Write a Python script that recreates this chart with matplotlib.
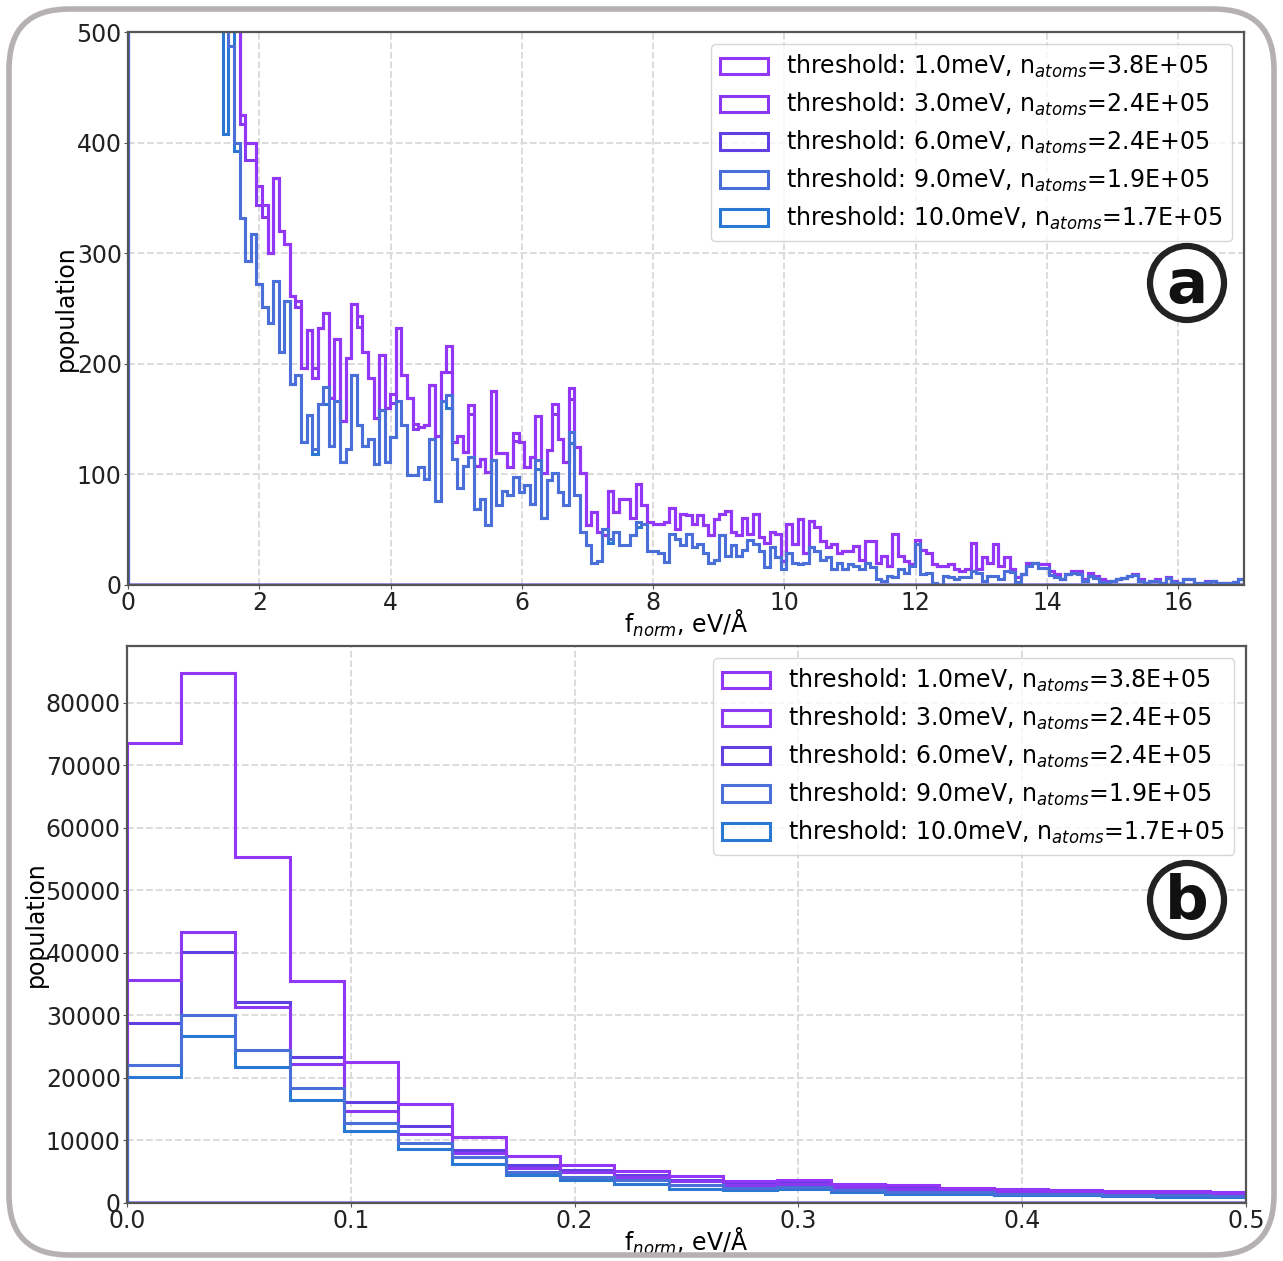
import numpy as np
import matplotlib
matplotlib.use("Agg")
import matplotlib.pyplot as plt
from matplotlib.patches import Circle, FancyBboxPatch

thresholds = [1.0, 3.0, 6.0, 9.0, 10.0]
n_atoms = [3.8e5, 2.4e5, 2.4e5, 1.9e5, 1.7e5]
colors = ['#9436f7', '#8a38f2', '#6040e2', '#4a6fd8', '#2a78d2']
draw_order = [2.3, 2.2, 2.1, 2.5, 2.4]

# (a) force norm histogram, 200 bins between 0 and 17 eV/A
edges_a = np.linspace(0, 17, 201)

purple_counts = [
    230000, 66000, 25000, 14000, 9000, 6500, 4800, 3600, 2700, 2100,
    1650, 1300, 1050, 880, 750, 650, 600, 620, 580, 530,
    425, 400, 400, 361, 344, 300, 368, 320, 308, 261,
    257, 196, 231, 187, 232, 246, 169, 222, 148, 205,
    254, 243, 211, 187, 151, 208, 160, 173, 232, 190,
    169, 146, 143, 145, 181, 135, 193, 216, 129, 135,
    120, 163, 108, 114, 102, 175, 119, 119, 107, 137,
    129, 107, 116, 153, 101, 122, 164, 132, 111, 178,
    125, 101, 54, 66, 48, 45, 85, 66, 78, 78,
    61, 91, 72, 57, 55, 55, 57, 70, 51, 64,
    63, 55, 63, 54, 45, 60, 64, 67, 48, 45,
    61, 46, 64, 43, 38, 48, 46, 22, 55, 37,
    60, 29, 58, 52, 40, 34, 37, 29, 31, 31,
    35, 23, 40, 40, 20, 26, 17, 46, 26, 22,
    19, 41, 32, 29, 19, 17, 17, 19, 14, 13,
    14, 38, 14, 25, 20, 37, 17, 25, 14, 7,
    10, 20, 20, 19, 19, 13, 10, 5, 10, 13,
    13, 5, 11, 8, 5, 4, 4, 5, 6, 8,
    10, 5, 2, 4, 5, 2, 7, 4, 2, 5,
    5, 2, 2, 4, 4, 2, 2, 2, 3, 5,
]

blue_counts = [
    95000, 36000, 15000, 8500, 5500, 3800, 2800, 2100, 1600, 1250,
    1000, 850, 730, 650, 590, 550, 520, 560, 487, 400,
    332, 293, 317, 272, 251, 237, 275, 211, 257, 182,
    190, 129, 154, 123, 164, 179, 126, 166, 111, 123,
    190, 145, 126, 132, 109, 158, 111, 134, 166, 145,
    99, 99, 107, 96, 132, 76, 166, 172, 114, 88,
    108, 116, 69, 78, 54, 113, 72, 85, 81, 98,
    84, 90, 73, 113, 61, 95, 101, 84, 72, 138,
    81, 48, 36, 20, 22, 51, 42, 48, 36, 36,
    45, 57, 55, 31, 31, 29, 21, 46, 42, 36,
    46, 34, 37, 29, 20, 23, 45, 26, 36, 26,
    32, 41, 37, 31, 16, 34, 25, 14, 29, 20,
    19, 20, 34, 31, 23, 25, 14, 20, 14, 19,
    17, 14, 20, 16, 5, 4, 8, 7, 14, 11,
    17, 37, 10, 11, 2, 0, 8, 7, 5, 7,
    7, 13, 11, 4, 8, 8, 5, 13, 12, 3,
    10, 17, 20, 15, 15, 9, 7, 5, 10, 11,
    10, 4, 8, 6, 3, 2, 4, 5, 6, 8,
    9, 4, 2, 4, 4, 2, 6, 3, 2, 5,
    5, 2, 2, 3, 4, 2, 2, 2, 3, 5,
]

# bins where the 3.0 meV and 10.0 meV runs split from their neighbours
purple_3mev_bins = {20: 417, 21: 384, 22: 384, 23: 344, 24: 333, 30: 251, 33: 196,
                    41: 233, 47: 165, 51: 141, 57: 193, 61: 155, 69: 130, 76: 155, 79: 168}
blue_10mev_bins = {17: 408, 18: 560, 19: 392, 33: 118, 35: 164, 57: 160,
                   73: 105, 79: 128, 86: 38, 91: 52}

# (b) zoom on small forces, bins of 0.0242 eV/A
edges_b = np.arange(23) * 0.0242
counts_b = [
    [73500, 84800, 55300, 35500, 22500, 15900, 10500, 7500, 6000, 5100, 4300,
     3500, 3600, 3100, 2800, 2400, 2200, 2100, 1900, 1850, 1800, 1750],
    [35700, 43300, 31300, 22200, 14700, 11100, 8000, 5600, 4900, 4200, 3500,
     2900, 3000, 2500, 2200, 2000, 1800, 1700, 1500, 1500, 1450, 1400],
    [28800, 40200, 32100, 23400, 16100, 12300, 8500, 6100, 5300, 4500, 3700,
     3100, 3200, 2700, 2400, 2200, 1900, 1800, 1600, 1600, 1550, 1500],
    [22000, 30000, 24400, 18400, 12800, 9600, 7400, 5000, 4200, 3600, 2800,
     2400, 2600, 2100, 1800, 1700, 1500, 1400, 1250, 1200, 1150, 1100],
    [20200, 26700, 21700, 16400, 11500, 8700, 6300, 4400, 3700, 3000, 2300,
     2000, 2300, 1800, 1500, 1500, 1300, 1200, 1070, 1000, 1000, 950],
]


def with_overrides(base, changes):
    out = list(base)
    for k, v in changes.items():
        out[k] = v
    return out


counts_a = [
    purple_counts,
    with_overrides(purple_counts, purple_3mev_bins),
    purple_counts,
    blue_counts,
    with_overrides(blue_counts, blue_10mev_bins),
]

plt.rcParams['font.family'] = 'DejaVu Sans'
plt.rcParams['font.size'] = 17

fig = plt.figure(figsize=(12.83, 12.61), dpi=100)
ax_a = fig.add_axes([0.0998, 0.5361, 0.8698, 0.4385])
ax_b = fig.add_axes([0.0990, 0.0460, 0.8722, 0.4417])


def draw_panel(ax, edges, counts):
    centers = (edges[:-1] + edges[1:]) / 2
    for i in range(len(thresholds)):
        label = f"threshold: {thresholds[i]:.1f}meV, n$_{{atoms}}$={n_atoms[i]:.1E}"
        ax.hist(centers, bins=edges, weights=counts[i], histtype='step',
                color=colors[i], lw=2.2, label=label, zorder=draw_order[i])
        ax.axhline(0, color=colors[i], lw=2.4, zorder=draw_order[i])
    ax.grid(True, ls='--', color='#d9d9d9', lw=1.3)
    ax.set_axisbelow(True)
    for sp in ax.spines.values():
        sp.set_color('#555555')
        sp.set_linewidth(1.6)
    ax.tick_params(labelsize=17, length=3, pad=1.5, color='#555555', labelcolor='#222222')
    ax.set_xlabel('f$_{norm}$, eV/Å', fontsize=17, labelpad=-5)
    ax.set_ylabel('population', fontsize=17)
    ax.legend(loc='upper right', fontsize=17, labelspacing=0.45)


draw_panel(ax_a, edges_a, counts_a)
ax_a.set_xlim(0, 17)
ax_a.set_ylim(0, 500)
ax_a.set_xticks(np.arange(0, 17, 2))
ax_a.yaxis.set_label_coords(-0.045, 0.5)

draw_panel(ax_b, edges_b, counts_b)
ax_b.set_xlim(0, 0.5)
ax_b.set_ylim(bottom=0)
ax_b.yaxis.set_label_coords(-0.0706, 0.5)

# panel tags
for (cx, cy), tag in [((11.87, 9.78), 'a'), ((11.87, 3.61), 'b')]:
    fig.add_artist(Circle((cx, cy), 0.37, transform=fig.dpi_scale_trans,
                          fc='white', ec='#222222', lw=4.5, zorder=10))
    fig.text(cx, cy - 0.03, tag, transform=fig.dpi_scale_trans, ha='center', va='center',
             fontsize=44, fontweight='bold', color='#111111', zorder=11)

# rounded outer frame
fig.add_artist(FancyBboxPatch((0.09, 0.06), 12.65, 12.46,
                              boxstyle='round,pad=0,rounding_size=0.6',
                              transform=fig.dpi_scale_trans,
                              fc='none', ec='#b5b1b1', lw=4))

fig.savefig('out.png', dpi=100)
